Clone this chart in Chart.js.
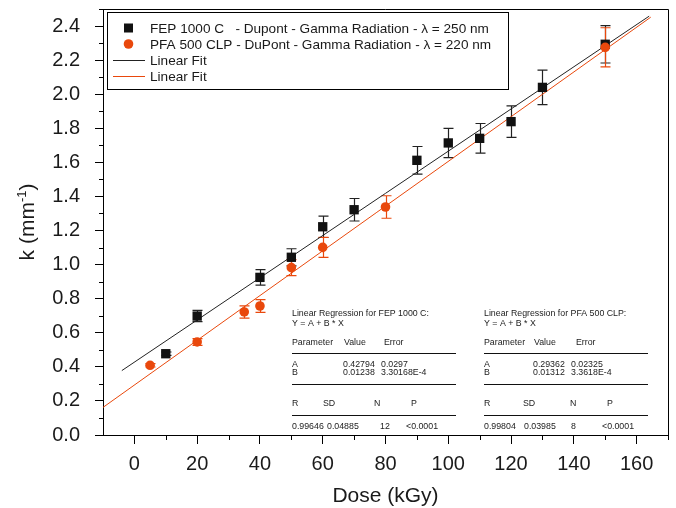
<!DOCTYPE html>
<html lang="en">
<head>
<meta charset="UTF-8">
<title>k vs Dose</title>
<style>
  html, body { margin: 0; padding: 0; background: #fff; }
  #wrap { width: 676px; height: 508px; }
</style>
</head>
<body>
<div id="wrap"><canvas id="kChart" width="676" height="508"></canvas></div>
<script src="https://cdn.jsdelivr.net/npm/chart.js"></script>
<script>
const fepDose = [10, 20, 40, 50, 60, 70, 90, 100, 110, 120, 130, 150];
const fepK    = [0.477, 0.698, 0.925, 1.043, 1.222, 1.322, 1.612, 1.714, 1.741, 1.839, 2.040, 2.293];
const fepErr  = [0.010, 0.033, 0.045, 0.050, 0.063, 0.066, 0.081, 0.086, 0.087, 0.092, 0.101, 0.110];

const pfaDose = [5, 20, 35, 40, 50, 60, 80, 150];
const pfaK    = [0.409, 0.546, 0.722, 0.757, 0.982, 1.101, 1.338, 2.275];
const pfaErr  = [0.010, 0.020, 0.036, 0.037, 0.047, 0.059, 0.066, 0.115];

// end points of the two fit lines
const fepFitX = [-4, 164];
const fepFitY = [0.378, 2.458];
const pfaFitX = [-10, 164.5];
const pfaFitY = [0.162, 2.452];

const xTicks = [0, 20, 40, 60, 80, 100, 120, 140, 160];
const xMinor = [10, 30, 50, 70, 90, 110, 130, 150, 170];
const yTicks = [0, 0.2, 0.4, 0.6, 0.8, 1.0, 1.2, 1.4, 1.6, 1.8, 2.0, 2.2, 2.4];
const yMinor = [0.1, 0.3, 0.5, 0.7, 0.9, 1.1, 1.3, 1.5, 1.7, 1.9, 2.1, 2.3, 2.5];

const legendLabels = [
  'FEP 1000 C   - Dupont - Gamma Radiation - \u03bb = 250 nm',
  'PFA 500 CLP - DuPont - Gamma Radiation - \u03bb = 220 nm',
  'Linear Fit',
  'Linear Fit'
];

const fepTable = {
  title: 'Linear Regression for FEP 1000 C:',
  a: ['0.42794', '0.0297'],
  b: ['0.01238', '3.30168E-4'],
  stats: ['0.99646', '0.04885', '12', '<0.0001']
};
const pfaTable = {
  title: 'Linear Regression for PFA 500 CLP:',
  a: ['0.29362', '0.02325'],
  b: ['0.01312', '3.3618E-4'],
  stats: ['0.99804', '0.03985', '8', '<0.0001']
};

const FONT = '"Liberation Sans", Arial, sans-serif';
const ORANGE = '#e9480c';
const BLACK = '#111111';

function pts(xs, ys) {
  return xs.map((x, i) => ({ x: x, y: ys[i] }));
}

// error bars, drawn under the markers
const errorBars = {
  id: 'errorBars',
  beforeDatasetsDraw(chart) {
    const ctx = chart.ctx;
    const xs = chart.scales.x, ys = chart.scales.y;
    const sets = [[fepDose, fepK, fepErr, '#222'], [pfaDose, pfaK, pfaErr, ORANGE]];
    ctx.save();
    ctx.lineWidth = 1.2;
    sets.forEach(([dx, dk, de, col]) => {
      ctx.strokeStyle = col;
      dx.forEach((d, i) => {
        const px = Math.round(xs.getPixelForValue(d)) + 0.5;
        const top = ys.getPixelForValue(dk[i] + de[i]);
        const bot = ys.getPixelForValue(dk[i] - de[i]);
        ctx.beginPath();
        ctx.moveTo(px, top); ctx.lineTo(px, bot);
        ctx.moveTo(px - 5, top); ctx.lineTo(px + 5, top);
        ctx.moveTo(px - 5, bot); ctx.lineTo(px + 5, bot);
        ctx.stroke();
      });
    });
    ctx.restore();
  }
};

function drawTable(ctx, t, x0, cols) {
  ctx.fillStyle = '#222';
  ctx.font = '8.8px ' + FONT;
  ctx.textBaseline = 'middle';
  ctx.textAlign = 'left';
  ctx.fillText(t.title, x0, 314);
  ctx.fillText('Y = A + B * X', x0, 324);
  ctx.fillText('Parameter', x0, 343);
  ctx.fillText('Value', cols.val + 1, 343);
  ctx.fillText('Error', cols.errH, 343);
  ctx.fillText('A', x0, 365);
  ctx.fillText(t.a[0], cols.val, 365);
  ctx.fillText(t.a[1], cols.err, 365);
  ctx.fillText('B', x0, 373);
  ctx.fillText(t.b[0], cols.val, 373);
  ctx.fillText(t.b[1], cols.err, 373);
  ctx.fillText('R', x0, 404);
  ctx.fillText('SD', cols.sdH, 404);
  ctx.fillText('N', cols.nH, 404);
  ctx.fillText('P', cols.pH, 404);
  t.stats.forEach((s, i) => ctx.fillText(s, cols.stats[i], 427));
  ctx.strokeStyle = '#111';
  ctx.lineWidth = 1;
  [353.5, 384.5, 415.5].forEach(y => {
    ctx.beginPath();
    ctx.moveTo(x0, y); ctx.lineTo(cols.end, y);
    ctx.stroke();
  });
}

const decorations = {
  id: 'decorations',
  afterDraw(chart) {
    const ctx = chart.ctx;
    const a = chart.chartArea;
    const xs = chart.scales.x, ys = chart.scales.y;
    ctx.save();

    // frame top and right
    ctx.strokeStyle = '#000';
    ctx.lineWidth = 1;
    ctx.beginPath();
    ctx.moveTo(a.left, Math.round(a.top) + 0.5);
    ctx.lineTo(Math.round(a.right) + 0.5, Math.round(a.top) + 0.5);
    ctx.lineTo(Math.round(a.right) + 0.5, a.bottom);
    ctx.stroke();

    // minor ticks
    ctx.beginPath();
    xMinor.forEach(v => {
      const px = Math.round(xs.getPixelForValue(v)) + 0.5;
      ctx.moveTo(px, a.bottom); ctx.lineTo(px, a.bottom + 5);
    });
    yMinor.forEach(v => {
      const py = Math.round(ys.getPixelForValue(v)) + 0.5;
      ctx.moveTo(a.left, py); ctx.lineTo(a.left - 4, py);
    });
    ctx.stroke();

    // axis titles
    ctx.fillStyle = '#1a1a1a';
    ctx.font = '21px ' + FONT;
    ctx.textAlign = 'center';
    ctx.textBaseline = 'alphabetic';
    ctx.fillText('Dose (kGy)', (a.left + a.right) / 2, 502);

    ctx.save();
    ctx.translate(34, (a.top + a.bottom) / 2);
    ctx.rotate(-Math.PI / 2);
    ctx.textAlign = 'left';
    const main = 'k (mm', sup = '-1', close = ')';
    ctx.font = '21px ' + FONT;
    const w1 = ctx.measureText(main).width, w3 = ctx.measureText(close).width;
    ctx.font = '13px ' + FONT;
    const w2 = ctx.measureText(sup).width;
    let x = -(w1 + w2 + w3) / 2;
    ctx.font = '21px ' + FONT;
    ctx.fillText(main, x, 0);
    ctx.font = '13px ' + FONT;
    ctx.fillText(sup, x + w1, -8);
    ctx.font = '21px ' + FONT;
    ctx.fillText(close, x + w1 + w2, 0);
    ctx.restore();

    // legend
    ctx.fillStyle = '#fff';
    ctx.fillRect(108, 13, 400, 76);
    ctx.strokeStyle = '#000';
    ctx.strokeRect(107.5, 12.5, 401, 77);
    ctx.font = '13.6px ' + FONT;
    ctx.textAlign = 'left';
    ctx.textBaseline = 'middle';
    legendLabels.forEach((lab, i) => {
      const y = 28 + i * 16;
      if (i === 0) {
        ctx.fillStyle = BLACK;
        ctx.fillRect(124, y - 4.5, 9, 9);
      } else if (i === 1) {
        ctx.fillStyle = ORANGE;
        ctx.beginPath();
        ctx.arc(128.5, y, 4.8, 0, Math.PI * 2);
        ctx.fill();
      } else {
        ctx.strokeStyle = i === 2 ? '#222' : ORANGE;
        ctx.beginPath();
        ctx.moveTo(113, Math.round(y) + 0.5);
        ctx.lineTo(145, Math.round(y) + 0.5);
        ctx.stroke();
      }
      ctx.fillStyle = '#1a1a1a';
      ctx.fillText(lab, 150, y + 1);
    });

    // regression tables
    drawTable(ctx, fepTable, 292, {
      val: 343, err: 381, errH: 384, sdH: 323, nH: 374, pH: 411,
      stats: [292, 327, 380, 406], end: 456
    });
    drawTable(ctx, pfaTable, 484, {
      val: 533, err: 571, errH: 576, sdH: 523, nH: 570, pH: 607,
      stats: [484, 524, 571, 602], end: 648
    });

    ctx.restore();
  }
};

new Chart(document.getElementById('kChart'), {
  type: 'scatter',
  data: {
    datasets: [
      {
        label: 'FEP fit',
        data: pts(fepFitX, fepFitY),
        showLine: true,
        borderColor: '#222',
        borderWidth: 1,
        pointRadius: 0,
        order: 3
      },
      {
        label: 'PFA fit',
        data: pts(pfaFitX, pfaFitY),
        showLine: true,
        borderColor: ORANGE,
        borderWidth: 1,
        pointRadius: 0,
        order: 4
      },
      {
        label: 'FEP 1000 C',
        data: pts(fepDose, fepK),
        pointStyle: 'rect',
        pointRadius: 6.6,
        pointBackgroundColor: BLACK,
        pointBorderColor: BLACK,
        pointBorderWidth: 0,
        order: 2
      },
      {
        label: 'PFA 500 CLP',
        data: pts(pfaDose, pfaK),
        pointStyle: 'circle',
        pointRadius: 4.8,
        pointBackgroundColor: ORANGE,
        pointBorderColor: ORANGE,
        pointBorderWidth: 0,
        order: 1
      }
    ]
  },
  options: {
    responsive: false,
    animation: false,
    layout: { padding: { top: 9, right: 8, left: 0, bottom: 0 } },
    plugins: { legend: { display: false }, tooltip: { enabled: false } },
    scales: {
      x: {
        type: 'linear',
        min: -10,
        max: 170,
        afterBuildTicks: axis => { axis.ticks = xTicks.map(v => ({ value: v })); },
        afterFit: scale => {
          scale.height = 73;
          scale.paddingLeft = 0; scale.paddingRight = 0;
          scale.paddingTop = 0; scale.paddingBottom = 0;
        },
        grid: { drawOnChartArea: false, drawTicks: true, tickLength: 9, color: '#000' },
        border: { display: true, color: '#000', width: 1 },
        ticks: {
          padding: 8,
          color: '#1a1a1a',
          font: { family: FONT, size: 20 },
          maxRotation: 0,
          autoSkip: false,
          callback: v => String(v)
        }
      },
      y: {
        type: 'linear',
        min: 0,
        max: 2.5,
        afterBuildTicks: axis => { axis.ticks = yTicks.map(v => ({ value: v })); },
        afterFit: scale => {
          scale.width = 103;
          scale.paddingLeft = 0; scale.paddingRight = 0;
          scale.paddingTop = 0; scale.paddingBottom = 0;
        },
        grid: { drawOnChartArea: false, drawTicks: true, tickLength: 8, color: '#000' },
        border: { display: true, color: '#000', width: 1 },
        ticks: {
          padding: 15,
          color: '#1a1a1a',
          font: { family: FONT, size: 20 },
          autoSkip: false,
          callback: v => Number(v).toFixed(1)
        }
      }
    }
  },
  plugins: [errorBars, decorations]
});
</script>
</body>
</html>
